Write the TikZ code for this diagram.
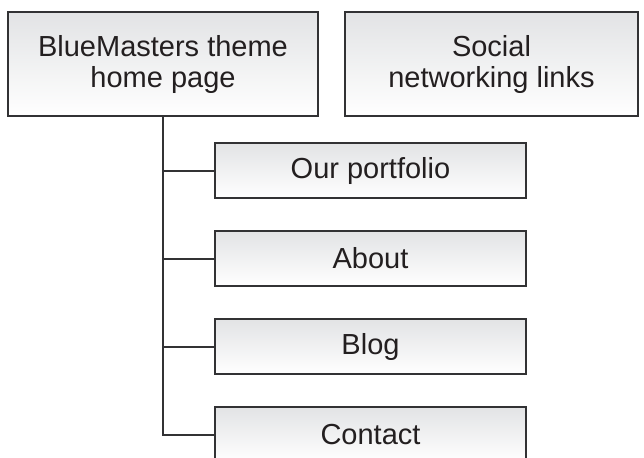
\documentclass[tikz,border=0pt]{standalone}
\usepackage{fontspec}
\setmainfont{Liberation Sans}
\usepackage{tikz}
\usetikzlibrary{positioning, calc}
\definecolor{boxTop}{RGB}{226, 227, 229}
\definecolor{boxMid}{RGB}{243, 244, 245}
\definecolor{boxLine}{RGB}{50, 50, 52}
\definecolor{boxText}{RGB}{35, 31, 32}
\tikzstyle{line} = [line width=1pt, draw=boxLine]
\tikzstyle{basic} = [rectangle, align=center, draw=boxLine, line width=1pt, text=boxText, top color=boxTop, middle color=boxMid, bottom color=white, font=\fontsize{14.5}{15.5}\selectfont]
\tikzstyle{pagebox} = [basic, minimum width=155pt, minimum height=52pt]
\tikzstyle{childbox} = [basic, minimum width=155.5pt, minimum height=27.5pt]

\begin{document}
\begin{tikzpicture}[node distance=0mm]

\useasboundingbox (0,0) rectangle (322pt,-228.5pt);
\clip (0,0) rectangle (322pt,-228.5pt);

\node (home) [pagebox] at (81.5pt,-32pt) {BlueMasters theme\\home page};
\node (social) [pagebox, minimum width=146.5pt, anchor=west, xshift=12.5pt] at(home.east) {Social\\networking links};

\node (portfolio) [childbox, anchor=north west, xshift=25.5pt, yshift=-12.5pt] at(home.south) {Our portfolio};
\node (about) [childbox, anchor=north, yshift=-15.5pt] at(portfolio.south) {About};
\node (blog) [childbox, anchor=north, yshift=-15.5pt] at(about.south) {Blog};
\node (contact) [childbox, anchor=north, yshift=-15.5pt] at(blog.south) {Contact};

\draw [line] (home.south) |- (portfolio.west);
\draw [line] (home.south) |- (about.west);
\draw [line] (home.south) |- (blog.west);
\draw [line] (home.south) |- (contact.west);

\end{tikzpicture}
\end{document}
